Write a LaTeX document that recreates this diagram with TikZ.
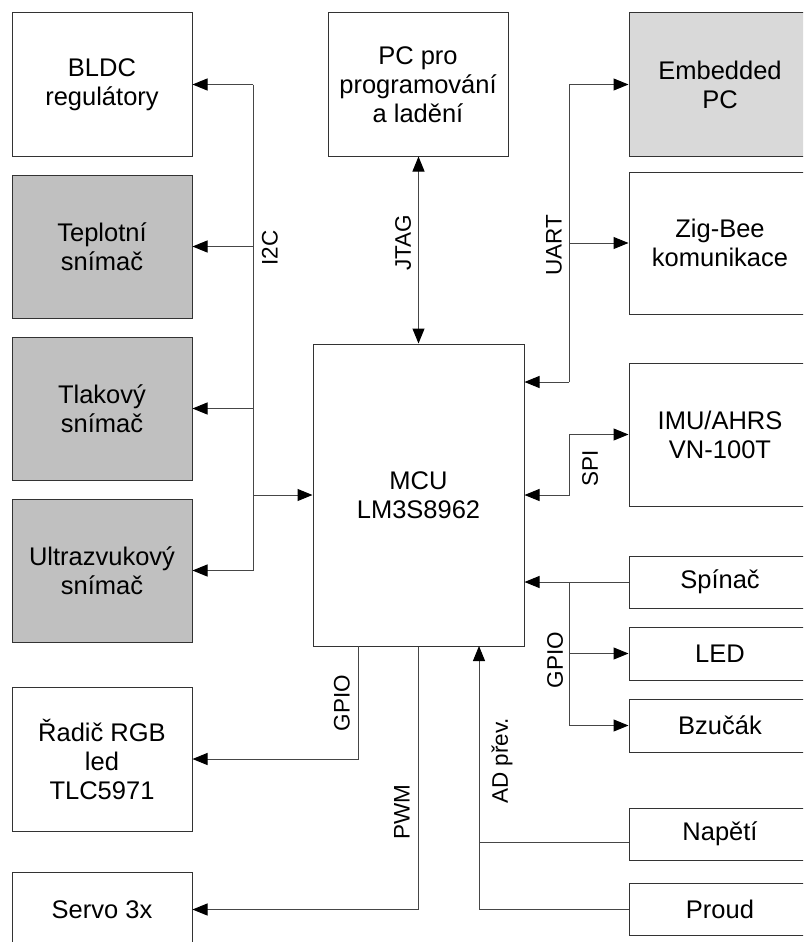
\documentclass[tikz,border=0pt]{standalone}
\usepackage{fontspec}
\setmainfont{Liberation Sans}
\usetikzlibrary{arrows.meta,calc}
\definecolor{darkfill}{RGB}{192,192,192}
\definecolor{lightfill}{RGB}{217,217,217}
\definecolor{linec}{RGB}{70,70,70}
\begin{document}
\begin{tikzpicture}[x=1pt,y=-1pt,
  box/.style={draw=black!80,line width=1pt,fill=white,inner sep=0pt,align=center,
    font=\fontsize{25.5}{29}\selectfont},
  bigbox/.style={box,minimum width=180pt,minimum height=143pt},
  rbox/.style={box,minimum width=182pt,minimum height=143pt},
  sbox/.style={box,minimum width=182pt,minimum height=52pt},
  conn/.style={draw=linec,line width=1pt},
  arr/.style={conn,-{Triangle[length=15pt,width=12pt,color=black]}},
  arrb/.style={conn,{Triangle[length=15pt,width=12pt,color=black]}-{Triangle[length=15pt,width=12pt,color=black]}},
  lab/.style={rotate=90,inner sep=0pt,font=\fontsize{22.5}{26}\selectfont}]
\useasboundingbox (0,0) rectangle (803,942);
\clip (0,0) rectangle (803,942);
% left column
\node[bigbox] (bldc) at (102,84.5) {BLDC\\regulátory};
\node[bigbox,fill=darkfill] (temp) at (102,246.5) {Teplotní\\snímač};
\node[bigbox,fill=darkfill] (press) at (102,408.5) {Tlakový\\snímač};
\node[bigbox,fill=darkfill] (ultra) at (102,570.5) {Ultrazvukový\\snímač};
\node[bigbox,minimum height=144pt] (radic) at (102,759) {Řadič RGB\\led\\TLC5971};
\node[box,minimum width=180pt,minimum height=75pt] (servo) at (102,909.5) {Servo 3x};
% middle
\node[bigbox] (pc) at (418,84.5) {PC pro\\programování\\a ladění};
\node[box,minimum width=211pt,minimum height=302pt] (mcu) at (418.5,495) {MCU\\LM3S8962};
% right column
\node[rbox,fill=lightfill] (emb) at (720,84.5) {Embedded\\PC};
\node[rbox,minimum height=142pt] (zig) at (720,243) {Zig-Bee\\komunikace};
\node[rbox] (imu) at (720,434.5) {IMU/AHRS\\VN-100T};
\node[sbox] (spinac) at (720,582) {Spínač};
\node[sbox,minimum height=53pt] (led) at (720,653.5) {LED};
\node[sbox,minimum height=53pt] (bzucak) at (720,725.5) {Bzučák};
\node[sbox] (napeti) at (720,834) {Napětí};
\node[sbox] (proud) at (720,909) {Proud};
% coordinates
\coordinate (i2ctop) at (253,84.5);
\coordinate (i2cbot) at (253,570.5);
\coordinate (uartbot) at (569,382);
\coordinate (spibot) at (569,495);
\coordinate (gtop) at (569,582);
\coordinate (gpiol) at (358,646);
\coordinate (adtop) at (479,646);
\coordinate (napj) at (479,842);
% I2C
\path[conn] (i2ctop) -- (i2cbot);
\draw[arr] (i2ctop) -- (bldc.east);
\draw[arr] (i2ctop |- temp.east) -- (temp.east);
\draw[arr] (i2ctop |- press.east) -- (press.east);
\draw[arr] (i2cbot) -- (ultra.east);
\draw[arr] (i2ctop |- mcu.west) -- (mcu.west);
\node[lab] (li2c) at (270,248) {I2C};
% JTAG
\draw[arrb] (pc.south -| mcu.north) -- (mcu.north);
\node[lab] (ljtag) at (403,243) {JTAG};
% UART
\draw[arr] (uartbot) -- (mcu.east |- uartbot);
\draw[arr] (uartbot) |- (emb.west);
\draw[arr] (uartbot |- zig.west) -- (zig.west);
\node[lab] (luart) at (554,245) {UART};
% SPI
\draw[arrb] (imu.west) -| (spibot) -- (mcu.east |- spibot);
\node[lab] (lspi) at (590,468) {SPI};
% GPIO right
\draw[arr] (spinac.west) -- (mcu.east |- spinac.west);
\draw[arr] (gtop) |- (bzucak.west);
\draw[arr] (gtop |- led.west) -- (led.west);
\node[lab] (lgpior) at (555,660) {GPIO};
% GPIO left
\draw[arr] (gpiol) |- (radic.east);
\node[lab] (lgpiol) at (342,703) {GPIO};
% PWM
\draw[arr] (mcu.south) |- (servo.east);
\node[lab] (lpwm) at (402,812) {PWM};
% AD
\draw[arr] (proud.west) -| (adtop);
\path[conn] (napeti.west |- napj) -- (napj);
\node[lab] (lad) at (502,761) {AD přev.};
\end{tikzpicture}
\end{document}
